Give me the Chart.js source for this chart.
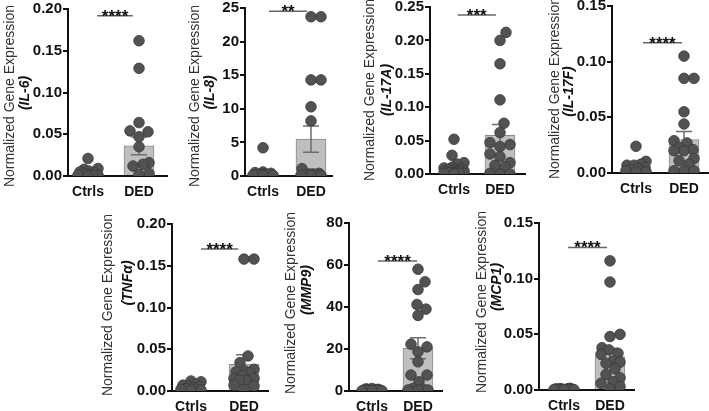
<!DOCTYPE html>
<html>
<head>
<meta charset="utf-8">
<script src="https://cdn.jsdelivr.net/npm/chart.js@4"></script>
<style>
  body { margin: 0; background: #fff; width: 709px; height: 411px; overflow: hidden; position: relative; }
  canvas { position: absolute; }
</style>
</head>
<body>
<script>
const groups = ["Ctrls", "DED"];

// IL-6
const il6Ticks = [0, 0.05, 0.10, 0.15, 0.20];
const il6Ctrls = [0.021, 0.009, 0.008, 0.006, 0.005, 0.004, 0.003, 0.002, 0.002, 0.001, 0.001, 0.001, 0.000];
const il6Ded = [0.162, 0.129, 0.064, 0.054, 0.053, 0.047, 0.035, 0.016, 0.014, 0.012, 0.003, 0.002];
const il6Mean = [0.003, 0.036];
const il6Sem = [0.0015, 0.0106];

// IL-8
const il8Ticks = [0, 5, 10, 15, 20, 25];
const il8Ctrls = [4.2, 0.6, 0.5, 0.4, 0.3, 0.3, 0.2, 0.2, 0.1, 0.1, 0.1];
const il8Ded = [23.7, 23.7, 14.3, 14.3, 10.3, 8.2, 1.1, 0.4, 0.3, 0.3, 0.2, 0.2, 0.1, 0.1, 0.1];
const il8Mean = [0.5, 5.5];
const il8Sem = [0.35, 1.95];

// IL-17A
const il17aTicks = [0, 0.05, 0.10, 0.15, 0.20, 0.25];
const il17aCtrls = [0.052, 0.028, 0.017, 0.015, 0.010, 0.009, 0.008, 0.007, 0.006, 0.005, 0.005, 0.004, 0.003, 0.003, 0.002, 0.002, 0.001, 0.001, 0.001, 0.000];
const il17aDed = [0.212, 0.200, 0.165, 0.111, 0.076, 0.062, 0.047, 0.044, 0.041, 0.030, 0.026, 0.017, 0.013, 0.011, 0.001, 0.000, 0.000];
const il17aMean = [0.006, 0.058];
const il17aSem = [0.003, 0.016];

// IL-17F
const il17fTicks = [0, 0.05, 0.10, 0.15];
const il17fCtrls = [0.024, 0.0105, 0.008, 0.007, 0.007, 0.005, 0.004, 0.003, 0.002, 0.002, 0.001, 0.001];
const il17fDed = [0.105, 0.085, 0.085, 0.055, 0.044, 0.029, 0.027, 0.023, 0.021, 0.020, 0.020, 0.013, 0.011, 0.008, 0.002, 0.002, 0.002];
const il17fMean = [0.003, 0.030];
const il17fSem = [0.0015, 0.0072];

// TNFa
const tnfTicks = [0, 0.05, 0.10, 0.15, 0.20];
const tnfCtrls = [0.012, 0.011, 0.008, 0.007, 0.006, 0.005, 0.004, 0.003, 0.002, 0.002, 0.001, 0.001];
const tnfDed = [0.158, 0.158, 0.042, 0.034, 0.026, 0.024, 0.023, 0.022, 0.019, 0.015, 0.015, 0.013, 0.013, 0.007, 0.006, 0.002];
const tnfMean = [0.003, 0.032];
const tnfSem = [0.001, 0.0115];

// MMP9
const mmp9Ticks = [0, 20, 40, 60, 80];
const mmp9Ctrls = [1.2, 1.0, 0.8, 0.7, 0.6, 0.5, 0.4, 0.3, 0.3, 0.2, 0.2, 0.1, 0.1, 0.1];
const mmp9Ded = [58.0, 52.0, 48.3, 41.2, 39.0, 36.0, 22.3, 21.0, 18.7, 13.9, 7.6, 7.6, 4.4, 1.2, 0.8, 0.5, 0.5, 0.3];
const mmp9Mean = [0.4, 20.3];
const mmp9Sem = [0.1, 5.0];

// MCP1
const mcp1Ticks = [0, 0.05, 0.10, 0.15];
const mcp1Ctrls = [0.0015, 0.0012, 0.001, 0.001, 0.0008, 0.0008, 0.0006, 0.0005, 0.0005, 0.0004, 0.0003, 0.0002];
const mcp1Ded = [0.116, 0.097, 0.050, 0.048, 0.038, 0.036, 0.033, 0.032, 0.026, 0.025, 0.024, 0.019, 0.014, 0.011, 0.0075, 0.006, 0.003, 0.001];
const mcp1Mean = [0.0008, 0.030];
const mcp1Sem = [0.0002, 0.0075];

// panel layout: box = pixel frame of the plot, sig = significance bar in data units
const panels = [
  { gene: "(IL-6)", ticks: il6Ticks, ctrls: il6Ctrls, ded: il6Ded, mean: il6Mean, sem: il6Sem, stars: "****",
    box: { x0: 68, x1: 167, yTop: 9, yZero: 176, c1: 88, c2: 139 },
    sig: { from: 1.18, to: 1.88, y: 0.192 }, title: [10, 96, 25.5, 93] },
  { gene: "(IL-8)", ticks: il8Ticks, ctrls: il8Ctrls, ded: il8Ded, mean: il8Mean, sem: il8Sem, stars: "**",
    box: { x0: 245, x1: 332, yTop: 8, yZero: 176, c1: 263, c2: 311 },
    sig: { from: 1.125, to: 1.917, y: 24.5 }, title: [195.5, 96, 210, 92.5] },
  { gene: "(IL-17A)", ticks: il17aTicks, ctrls: il17aCtrls, ded: il17aDed, mean: il17aMean, sem: il17aSem, stars: "***",
    box: { x0: 430, x1: 525, yTop: 7, yZero: 174, c1: 454, c2: 500 },
    sig: { from: 1.08, to: 1.91, y: 0.238 }, title: [370, 90, 387, 90] },
  { gene: "(IL-17F)", ticks: il17fTicks, ctrls: il17fCtrls, ded: il17fDed, mean: il17fMean, sem: il17fSem, stars: "****",
    box: { x0: 612, x1: 712, yTop: 6, yZero: 173, c1: 636, c2: 684 },
    sig: { from: 1.146, to: 1.958, y: 0.117 }, title: [555, 88, 569, 91.5] },
  { gene: "(TNF\u03B1)", ticks: tnfTicks, ctrls: tnfCtrls, ded: tnfDed, mean: tnfMean, sem: tnfSem, stars: "****",
    box: { x0: 172, x1: 268, yTop: 224, yZero: 391, c1: 191, c2: 244 },
    sig: { from: 1.19, to: 1.89, y: 0.170 }, title: [108, 305, 128, 283] },
  { gene: "(MMP9)", ticks: mmp9Ticks, ctrls: mmp9Ctrls, ded: mmp9Ded, mean: mmp9Mean, sem: mmp9Sem, stars: "****",
    box: { x0: 349, x1: 442, yTop: 223, yZero: 391, c1: 372, c2: 418 },
    sig: { from: 1.13, to: 1.98, y: 61.9 }, title: [291.5, 303, 307, 290] },
  { gene: "(MCP1)", ticks: mcp1Ticks, ctrls: mcp1Ctrls, ded: mcp1Ded, mean: mcp1Mean, sem: mcp1Sem, stars: "****",
    box: { x0: 539, x1: 634, yTop: 223, yZero: 390, c1: 564, c2: 610 },
    sig: { from: 1.087, to: 1.935, y: 0.128 }, title: [482, 302, 497, 287] }
];

const FONT = '"Liberation Sans", Arial, sans-serif';

// spread dots sideways so they don't sit on top of each other
function swarm(values, center, p) {
  const b = p.box;
  const pxPerVal = (b.yZero - b.yTop) / p.ticks[p.ticks.length - 1];
  const unit = b.c2 - b.c1;
  const minDist = 10, maxHalf = 10;
  const placed = [];
  const out = [];
  const idx = values.map((v, i) => i).sort((a, b2) => values[a] - values[b2]);
  idx.forEach(i => {
    const py = values[i] * pxPerVal;
    let best = 0, bestD = -1;
    for (let k = 0; k <= 2 * maxHalf; k++) {
      const off = (k % 2 ? 1 : -1) * Math.ceil(k / 2);
      let d = Infinity;
      placed.forEach(q => { d = Math.min(d, Math.hypot(off - q[0], py - q[1])); });
      if (d >= minDist) { best = off; bestD = d; break; }
      if (d > bestD) { bestD = d; best = off; }
    }
    placed.push([best, py]);
    out[i] = { x: center + best / unit, y: values[i] };
  });
  return out;
}

function extras(p, left, top) {
  return {
    id: "extras",
    afterDatasetDraw(chart, args) {
      if (args.index !== 2) return;
      // error bars (mean +/- SEM)
      const { ctx, scales: { x, y } } = chart;
      ctx.save();
      ctx.strokeStyle = "#6e6e6e";
      ctx.lineWidth = 1.5;
      p.mean.forEach((m, i) => {
        const px = x.getPixelForValue(i + 1);
        const yHi = y.getPixelForValue(m + p.sem[i]);
        const yLo = y.getPixelForValue(Math.max(m - p.sem[i], 0));
        ctx.beginPath();
        ctx.moveTo(px, yHi); ctx.lineTo(px, yLo);
        ctx.moveTo(px - 8, yHi); ctx.lineTo(px + 8, yHi);
        ctx.moveTo(px - 8, yLo); ctx.lineTo(px + 8, yLo);
        ctx.stroke();
      });
      ctx.restore();
    },
    afterDraw(chart) {
      const { ctx, scales: { x, y } } = chart;
      ctx.save();
      // significance bar
      const sx1 = x.getPixelForValue(p.sig.from);
      const sx2 = x.getPixelForValue(p.sig.to);
      const sy = y.getPixelForValue(p.sig.y);
      ctx.strokeStyle = "#666";
      ctx.lineWidth = 1.5;
      ctx.beginPath();
      ctx.moveTo(sx1, sy); ctx.lineTo(sx2, sy);
      ctx.stroke();
      ctx.fillStyle = "#111";
      ctx.font = "bold 17px " + FONT;
      ctx.textAlign = "center";
      ctx.textBaseline = "alphabetic";
      ctx.fillText(p.stars, (sx1 + sx2) / 2, sy + 6);

      // axis title, two lines
      const t = p.title;
      ctx.textBaseline = "middle";
      ctx.save();
      ctx.translate(t[0] - left, t[1] - top);
      ctx.rotate(-Math.PI / 2);
      ctx.fillStyle = "#333";
      ctx.font = "14px " + FONT;
      ctx.fillText("Normalized Gene Expression", 0, 0);
      ctx.restore();
      ctx.save();
      ctx.translate(t[2] - left, t[3] - top);
      ctx.rotate(-Math.PI / 2);
      ctx.fillStyle = "#111";
      ctx.font = "italic bold 14px " + FONT;
      ctx.fillText(p.gene, 0, 0);
      ctx.restore();
      ctx.restore();
    }
  };
}

panels.forEach(p => {
  const b = p.box;
  const unit = b.c2 - b.c1;
  const left = b.x0 - 75;
  const top = b.yTop - 30;
  const w = b.x1 + 12 - left;
  const h = b.yZero + 34 - top;

  const canvas = document.createElement("canvas");
  canvas.width = w;
  canvas.height = h;
  canvas.style.left = left + "px";
  canvas.style.top = top + "px";
  document.body.appendChild(canvas);

  const yMax = p.ticks[p.ticks.length - 1];
  const dec = yMax < 1 ? 2 : 0;

  const dot = {
    type: "scatter",
    pointRadius: 5.3,
    backgroundColor: "#525252",
    borderColor: "#3a3a3a",
    borderWidth: 0.8,
    order: 0
  };

  new Chart(canvas, {
    type: "bar",
    data: {
      datasets: [
        Object.assign({ label: groups[0], data: swarm(p.ctrls, 1, p) }, dot),
        Object.assign({ label: groups[1], data: swarm(p.ded, 2, p) }, dot),
        {
          type: "bar",
          label: "Mean",
          data: p.mean.map((m, i) => ({ x: i + 1, y: m })),
          backgroundColor: "#bfbfbf",
          borderColor: "#8a8a8a",
          borderWidth: 1,
          barThickness: 30,
          grouped: false,
          order: 1
        }
      ]
    },
    options: {
      responsive: false,
      animation: false,
      events: [],
      layout: { padding: { top: 30, right: 12, left: 0, bottom: 0 } },
      plugins: { legend: { display: false }, tooltip: { enabled: false } },
      scales: {
        x: {
          type: "linear",
          offset: false,
          min: 1 - (b.c1 - b.x0) / unit,
          max: 2 + (b.x1 - b.c2) / unit,
          afterBuildTicks: s => { s.ticks = [{ value: 1 }, { value: 2 }]; },
          afterFit: s => { s.height = 34; },
          grid: { display: false, drawTicks: false, offset: false },
          border: { display: true, color: "#111", width: 2 },
          ticks: {
            autoSkip: false,
            maxRotation: 0,
            padding: 8,
            color: "#111",
            font: { family: FONT, size: 14, weight: "bold" },
            callback: v => groups[v - 1]
          }
        },
        y: {
          min: 0,
          max: yMax,
          afterBuildTicks: s => { s.ticks = p.ticks.map(v => ({ value: v })); },
          afterFit: s => { s.width = b.x0 - left; },
          grid: { drawOnChartArea: false, drawTicks: true, tickLength: 5, color: "#111", lineWidth: 2 },
          border: { display: true, color: "#111", width: 2 },
          ticks: {
            padding: 1,
            color: "#111",
            font: { family: FONT, size: 15, weight: "bold" },
            callback: v => v.toFixed(dec)
          }
        }
      }
    },
    plugins: [extras(p, left, top)]
  });
});
</script>
</body>
</html>
